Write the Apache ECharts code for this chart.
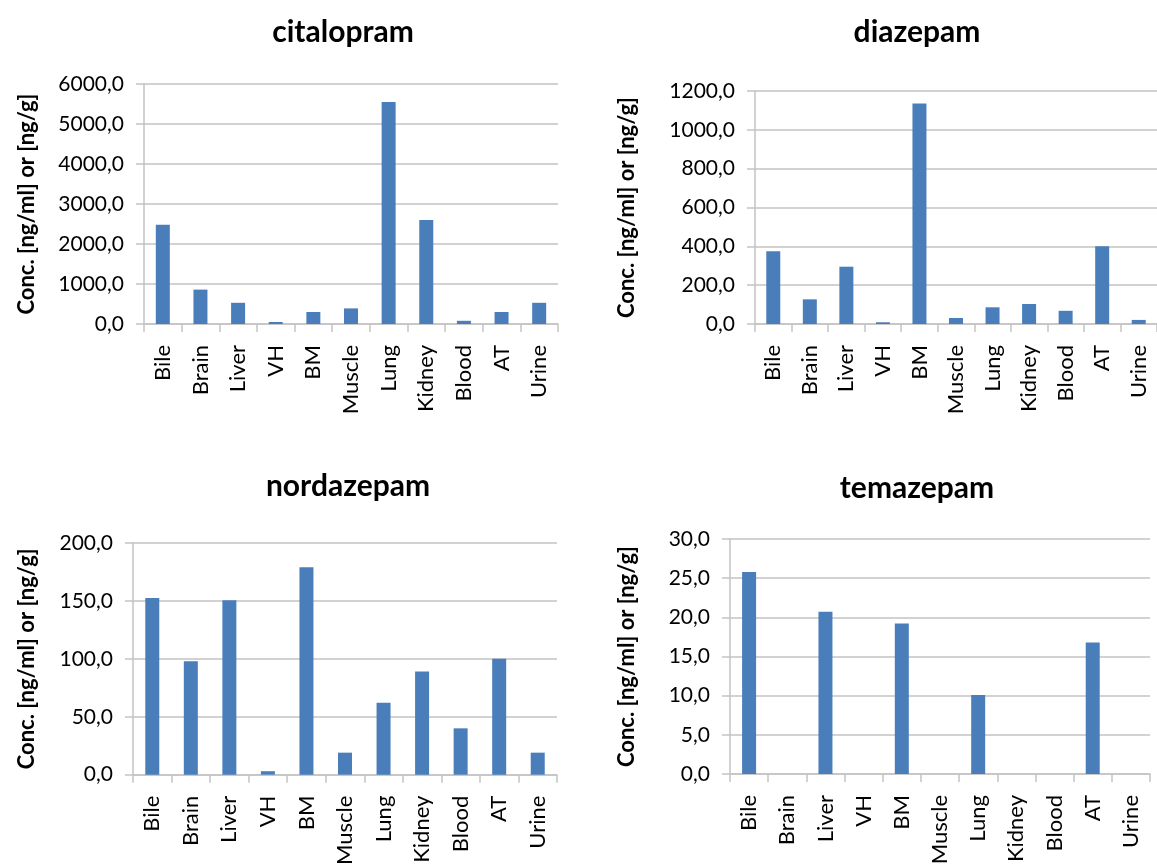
<!DOCTYPE html>
<html>
<head>
<meta charset="utf-8">
<script src="https://cdn.jsdelivr.net/npm/echarts@6/dist/echarts.min.js"></script>
<style>
html,body{margin:0;padding:0;background:#fff;}
#chart{width:1157px;height:868px;}
</style>
</head>
<body>
<div id="chart"></div>
<script>
const categories = ['Bile','Brain','Liver','VH','BM','Muscle','Lung','Kidney','Blood','AT','Urine'];
const titles = ['citalopram','diazepam','nordazepam','temazepam'];
const citalopram = [2480, 860, 530, 50, 300, 390, 5550, 2600, 80, 300, 530];
const diazepam = [375, 127, 295, 9, 1135, 31, 86, 103, 68, 400, 21];
const nordazepam = [152.5, 98, 150.5, 3, 179, 19, 62, 89, 40, 100, 19];
const temazepam = [25.8, 0, 20.7, 0, 19.2, 0, 10.1, 0, 0, 16.8, 0];
const yMax = [6000, 1200, 200, 30];
const yInterval = [1000, 200, 50, 5];
const yName = 'Conc. [ng/ml] or [ng/g]';

const seriesData = [citalopram, diazepam, nordazepam, temazepam];
const grids = [
  {left:144, width:414, top:84, height:240},
  {left:755, width:409, top:91, height:233},
  {left:133, width:424, top:543, height:234},
  {left:730, width:420, top:539, height:235}
];
const nameGaps = [106, 117, 95, 92];
const titlePos = [{x:338,y:12},{x:912,y:12},{x:343,y:466},{x:912,y:468}];
const FONT = 'Lato, "Open Sans", sans-serif';
const gridColor = '#c3c3c3';

const chart = echarts.init(document.getElementById('chart'));
const fmt = v => v.toFixed(1).replace('.', ',');

const option = {
  backgroundColor:'#fff',
  animation:false,
  title: titles.map((t,i)=>({
    text:t, left:titlePos[i].x, top:titlePos[i].y, textAlign:'center',
    textStyle:{fontFamily:FONT, fontSize:30, fontWeight:'bold', color:'#000'}
  })),
  grid: grids.map(g=>Object.assign({containLabel:false}, g)),
  xAxis: grids.map((g,i)=>({
    type:'category', gridIndex:i, data:categories,
    axisLine:{lineStyle:{color:gridColor, width:1.5}},
    axisTick:{show:true, length:8, lineStyle:{color:gridColor, width:1.5}},
    axisLabel:{rotate:90, fontFamily:FONT, fontSize:22, color:'#000', margin:21, interval:0},
    splitLine:{show:false}
  })),
  yAxis: grids.map((g,i)=>({
    type:'value', gridIndex:i, min:0, max:yMax[i], interval:yInterval[i],
    name:yName, nameLocation:'middle', nameGap:nameGaps[i],
    nameTextStyle:{fontFamily:FONT, fontSize:22, fontWeight:'bold', color:'#000'},
    axisLine:{show:true, lineStyle:{color:gridColor, width:1.5}},
    axisTick:{show:true, length:8, lineStyle:{color:gridColor, width:1.5}},
    axisLabel:{fontFamily:FONT, fontSize:21, color:'#000', margin:20, formatter:fmt},
    splitLine:{show:true, lineStyle:{color:gridColor, width:1.5}}
  })),
  series: seriesData.map((d,i)=>({
    type:'bar', xAxisIndex:i, yAxisIndex:i, data:d, barWidth:14,
    itemStyle:{color:'#4a7ebb'}
  }))
};
chart.setOption(option);
</script>
</body>
</html>
